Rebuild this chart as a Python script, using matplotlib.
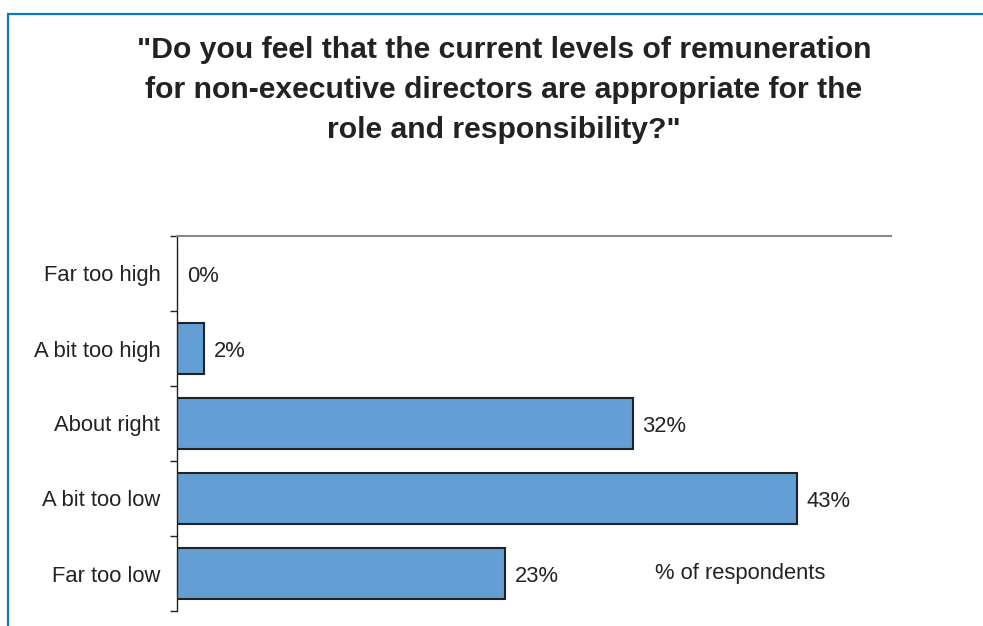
import matplotlib
matplotlib.use("Agg")
import matplotlib.pyplot as plt
from matplotlib.patches import Rectangle

categories = ["Far too high", "A bit too high", "About right", "A bit too low", "Far too low"]
values = [0, 1.9, 31.9, 43.4, 23.0]
labels = ["0%", "2%", "32%", "43%", "23%"]
title = ('"Do you feel that the current levels of remuneration\n'
         'for non-executive directors are appropriate for the\n'
         'role and responsibility?"')
note = "% of respondents"

plt.rcParams['font.family'] = ['Liberation Sans', 'DejaVu Sans']

W, H = 983, 626
fig = plt.figure(figsize=(W / 100, H / 100), dpi=100)

# outer blue frame
fig.patches.append(Rectangle((8 / W, -0.2), 1.2, 1.2 - 14 / H, transform=fig.transFigure,
                             fill=False, edgecolor="#0A78C2", linewidth=1.6, clip_on=True))

left, right, top, bottom = 177, 891, 236, 611
ax = fig.add_axes([left / W, 1 - bottom / H, (right - left) / W, (bottom - top) / H])

y = range(len(categories))
ax.barh(list(y), values, height=0.67, color="#639FD4", edgecolor="#222222", linewidth=1.5)
ax.set_xlim(0, 50)
ax.set_ylim(len(categories) - 0.5, -0.5)

for i, (v, lab) in enumerate(zip(values, labels)):
    ax.annotate(lab, (v, i), xytext=(7, -2), textcoords="offset points",
                va="center", ha="left", fontsize=15.8, color="#222222")

ax.set_yticks(list(y))
ax.set_yticklabels(categories, fontsize=15.8, color="#222222")
ax.tick_params(axis="y", which="major", length=0, pad=12)
for t in ax.get_yticklabels():
    t.set_y(t.get_position()[1])
ax.set_yticks([i - 0.5 for i in range(len(categories) + 1)], minor=True)
ax.tick_params(axis="y", which="minor", length=5, width=1, color="#222222", direction="out")
ax.set_xticks([])

ax.spines["right"].set_visible(False)
ax.spines["bottom"].set_visible(False)
ax.spines["top"].set_color("#888888")
ax.spines["top"].set_linewidth(1.5)
ax.spines["left"].set_color("#222222")
ax.spines["left"].set_linewidth(1.0)

fig.text(504 / W, 1 - 90 / H, title, ha="center", va="center", fontsize=21.7,
         fontweight="bold", color="#222222", linespacing=1.55)

fig.text(655 / W, 1 - 574 / H, note, ha="left", va="center", fontsize=15.8, color="#222222")

fig.savefig("out.png", dpi=100)
